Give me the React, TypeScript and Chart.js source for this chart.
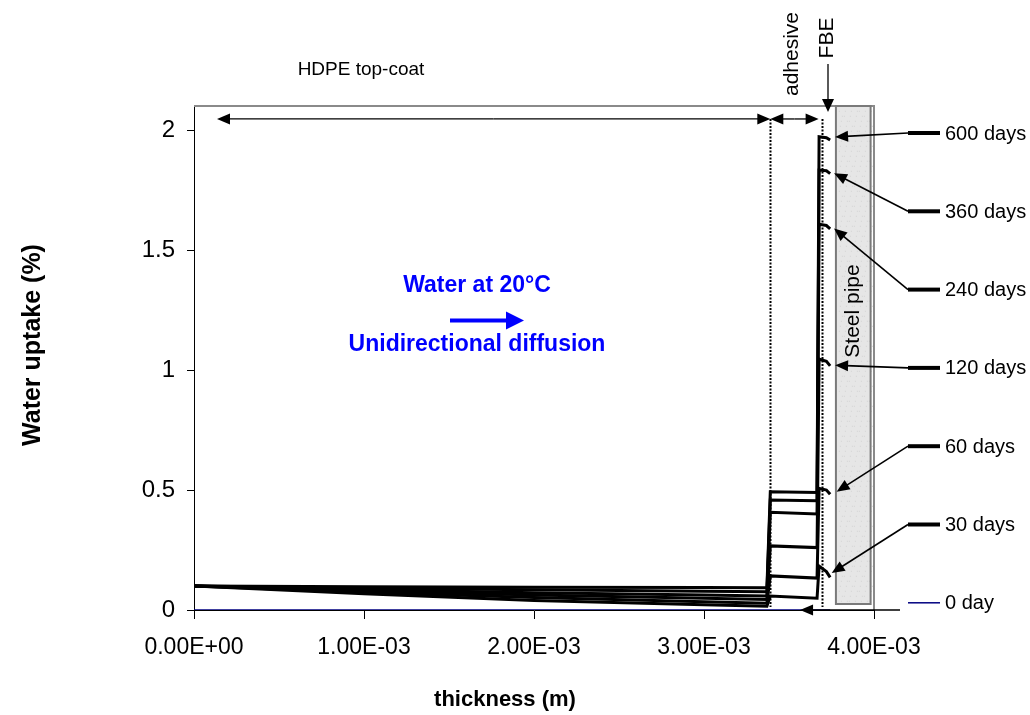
import React, { useEffect, useRef } from 'react';
import { Chart, registerables } from 'chart.js';

Chart.register(...registerables);

// ---------------- data ----------------
// thickness positions (m) through HDPE -> adhesive -> FBE
const thickness = [0, 1.0e-3, 2.0e-3, 3.0e-3, 3.37e-3, 3.39e-3, 3.665e-3, 3.677e-3, 3.72e-3, 3.742e-3];

const seriesLabels = ['600 days', '360 days', '240 days', '120 days', '60 days', '30 days'];
const uptake600 = [0.100, 0.097, 0.095, 0.094, 0.093, 0.493, 0.490, 1.972, 1.968, 1.958];
const uptake360 = [0.100, 0.091, 0.084, 0.078, 0.076, 0.458, 0.455, 1.833, 1.830, 1.818];
const uptake240 = [0.100, 0.085, 0.072, 0.062, 0.058, 0.407, 0.400, 1.607, 1.602, 1.588];
const uptake120 = [0.100, 0.080, 0.063, 0.049, 0.044, 0.267, 0.260, 1.046, 1.036, 1.017];
const uptake60 = [0.100, 0.074, 0.052, 0.034, 0.028, 0.142, 0.133, 0.507, 0.500, 0.482];
const uptake30 = [0.100, 0.068, 0.040, 0.022, 0.016, 0.058, 0.049, 0.183, 0.160, 0.136];
const zeroLabel = '0 day';
const uptake0 = [0, 0, 0, 0, 0, 0, 0, 0, 0, 0];

const xTickValues = [0, 1e-3, 2e-3, 3e-3, 4e-3];
const xTickLabels = ['0.00E+00', '1.00E-03', '2.00E-03', '3.00E-03', '4.00E-03'];
const yTickValues = [0, 0.5, 1, 1.5, 2];
const yTickLabels = ['0', '0.5', '1', '1.5', '2'];

// layer boundaries (m)
const adhesiveStart = 3.39e-3;
const fbeStart = 3.692e-3;
const pipeStart = 3.776e-3;
const pipeEnd = 3.98e-3;

// ---------------- styles / layout ----------------
const FONT = '"Liberation Sans", Arial, Helvetica, sans-serif';
const W = 1030;
const H = 715;
const legendX = 908;
const legendTop = 133;
const legendStep = 78.3;
// arrow tips (data coordinates) for each legend entry, top to bottom
const arrowTipX = [3.771e-3, 3.765e-3, 3.765e-3, 3.771e-3, 3.78e-3, 3.751e-3, 3.565e-3];
const arrowTipY = [1.971, 1.82, 1.59, 1.02, 0.493, 0.154, 0];

function arrowHead(ctx: CanvasRenderingContext2D, fx: number, fy: number, tx: number, ty: number, len: number, half: number) {
  const a = Math.atan2(ty - fy, tx - fx);
  const bx = tx - len * Math.cos(a);
  const by = ty - len * Math.sin(a);
  ctx.beginPath();
  ctx.moveTo(tx, ty);
  ctx.lineTo(bx + half * Math.sin(a), by - half * Math.cos(a));
  ctx.lineTo(bx - half * Math.sin(a), by + half * Math.cos(a));
  ctx.closePath();
  ctx.fill();
}

function arrowLine(ctx: CanvasRenderingContext2D, fx: number, fy: number, tx: number, ty: number, len: number, half: number, lw: number) {
  const a = Math.atan2(ty - fy, tx - fx);
  ctx.lineWidth = lw;
  ctx.beginPath();
  ctx.moveTo(fx, fy);
  ctx.lineTo(tx - (len * 0.8) * Math.cos(a), ty - (len * 0.8) * Math.sin(a));
  ctx.stroke();
  arrowHead(ctx, fx, fy, tx, ty, len, half);
}

function rotText(ctx: CanvasRenderingContext2D, text: string, x: number, y: number, font: string) {
  ctx.save();
  ctx.translate(x, y);
  ctx.rotate(-Math.PI / 2);
  ctx.font = font;
  ctx.textAlign = 'center';
  ctx.textBaseline = 'alphabetic';
  ctx.fillText(text, 0, 0);
  ctx.restore();
}

const annotations = {
  id: 'annotations',
  beforeDatasetsDraw(chart: any) {
    const { ctx, chartArea: ca, scales } = chart;
    const xs = scales.x;
    const ys = scales.y;
    ctx.save();
    // plot-area border (top, right)
    ctx.strokeStyle = '#8a8a8a';
    ctx.lineWidth = 2;
    ctx.beginPath();
    ctx.moveTo(ca.left, ca.top);
    ctx.lineTo(ca.right, ca.top);
    ctx.lineTo(ca.right, ca.bottom);
    ctx.stroke();
    // steel pipe
    const px0 = xs.getPixelForValue(pipeStart);
    const px1 = xs.getPixelForValue(pipeEnd);
    const py0 = ca.top;
    const py1 = ys.getPixelForValue(0.025);
    ctx.fillStyle = '#e6e6e6';
    ctx.fillRect(px0, py0, px1 - px0, py1 - py0);
    // light speckle texture
    ctx.fillStyle = '#d2d2d2';
    for (let yy = py0 + 2; yy < py1 - 2; yy += 5) {
      for (let xx = px0 + 2; xx < px1 - 2; xx += 5) {
        const o = ((yy * 7 + xx * 13) % 4);
        ctx.fillRect(xx + o, yy + ((xx * 3) % 3), 1, 1);
      }
    }
    ctx.strokeStyle = '#7a7a7a';
    ctx.lineWidth = 2;
    ctx.strokeRect(px0, py0, px1 - px0, py1 - py0);
    ctx.fillStyle = '#000';
    rotText(ctx, 'Steel pipe', (px0 + px1) / 2 + 6, 311, `21px ${FONT}`);

    // dotted layer boundaries
    ctx.strokeStyle = '#000';
    ctx.lineWidth = 2;
    ctx.setLineDash([2, 1.5]);
    const yTopDot = ys.getPixelForValue(2.046);
    const yBotDot = ys.getPixelForValue(0.012);
    [adhesiveStart, fbeStart].forEach((v) => {
      const x = Math.round(xs.getPixelForValue(v)) + 0.5;
      ctx.beginPath();
      ctx.moveTo(x, yTopDot);
      ctx.lineTo(x, yBotDot);
      ctx.stroke();
    });
    ctx.setLineDash([]);
    ctx.restore();
  },
  afterDatasetsDraw(chart: any) {
    const { ctx, chartArea: ca, scales } = chart;
    const xs = scales.x;
    const ys = scales.y;
    ctx.save();
    ctx.fillStyle = '#000';
    ctx.strokeStyle = '#000';
    // layer double arrows
    const ay = ys.getPixelForValue(2.046);
    const xa = xs.getPixelForValue(adhesiveStart);
    const xf = xs.getPixelForValue(fbeStart) - 3;
    const xl = ca.left + 23;
    arrowLine(ctx, (xl + xa) / 2, ay, xl, ay, 13, 5.5, 1.3);
    arrowLine(ctx, (xl + xa) / 2, ay, xa, ay, 13, 5.5, 1.3);
    arrowLine(ctx, (xa + xf) / 2, ay, xa, ay, 13, 5.5, 1.3);
    arrowLine(ctx, (xa + xf) / 2, ay, xf, ay, 13, 5.5, 1.3);
    // FBE arrow
    const fx = 828;
    arrowLine(ctx, fx, 64, fx, 112, 13, 6, 1.3);
    // layer labels
    ctx.font = `19px ${FONT}`;
    ctx.textAlign = 'center';
    ctx.textBaseline = 'alphabetic';
    ctx.fillText('HDPE top-coat', 361, 75);
    rotText(ctx, 'adhesive', 798, 54, `21px ${FONT}`);
    rotText(ctx, 'FBE', 833, 38, `21px ${FONT}`);

    // blue text and arrow
    ctx.fillStyle = '#0000ff';
    ctx.strokeStyle = '#0000ff';
    ctx.font = `bold 23px ${FONT}`;
    ctx.fillText('Water at 20°C', 477, 292);
    ctx.fillText('Unidirectional diffusion', 477, 351);
    arrowLine(ctx, 450, 320.5, 524, 320.5, 18, 9, 4);

    // legend with arrows to curves
    const entries = chart.data.datasets
      .map((d: any, i: number) => ({ d, i }))
      .filter((e: any) => e.d.legendRank !== undefined)
      .sort((a: any, b: any) => a.d.legendRank - b.d.legendRank);
    entries.forEach((e: any, k: number) => {
      const ly = legendTop + k * legendStep;
      ctx.strokeStyle = e.d.borderColor;
      ctx.lineWidth = e.d.legendRank === 6 ? 1.5 : 4;
      ctx.beginPath();
      ctx.moveTo(legendX, ly);
      ctx.lineTo(legendX + 32, ly);
      ctx.stroke();
      ctx.fillStyle = '#000';
      ctx.font = `20px ${FONT}`;
      ctx.textAlign = 'left';
      ctx.textBaseline = 'middle';
      ctx.fillText(e.d.label, legendX + 37, ly + 1);
      // pointer arrow
      const tx = xs.getPixelForValue(arrowTipX[k]);
      const ty = ys.getPixelForValue(arrowTipY[k]);
      ctx.strokeStyle = '#000';
      if (e.d.legendRank === 6) {
        arrowLine(ctx, legendX - 8, ty, tx, ty, 13, 5.5, 1.6);
      } else {
        arrowLine(ctx, legendX, ly, tx, ty, 13, 5.5, 1.6);
      }
    });
    ctx.restore();
  },
  afterDraw(chart: any) {
    const { ctx } = chart;
    ctx.save();
    ctx.fillStyle = '#000';
    ctx.font = `bold 22px ${FONT}`;
    ctx.textAlign = 'center';
    ctx.textBaseline = 'alphabetic';
    ctx.fillText('thickness (m)', 505, 706);
    rotText(ctx, 'Water uptake (%)', 40, 345, `bold 25px ${FONT}`);
    ctx.restore();
  },
};

function mkSeries(label: string, ys: number[], color: string, width: number, rank: number) {
  return {
    label,
    data: thickness.map((x, i) => ({ x, y: ys[i] })),
    borderColor: color,
    backgroundColor: color,
    borderWidth: width,
    pointRadius: 0,
    tension: 0,
    fill: false,
    legendRank: rank,
  };
}

export default function App() {
  const ref = useRef<HTMLCanvasElement | null>(null);
  useEffect(() => {
    if (!ref.current) return;
    const black = '#000000';
    const chart = new Chart(ref.current, {
      type: 'line',
      data: {
        datasets: [
          mkSeries(zeroLabel, uptake0, '#000080', 1.5, 6),
          mkSeries(seriesLabels[0], uptake600, black, 3, 0),
          mkSeries(seriesLabels[1], uptake360, black, 3, 1),
          mkSeries(seriesLabels[2], uptake240, black, 3, 2),
          mkSeries(seriesLabels[3], uptake120, black, 3, 3),
          mkSeries(seriesLabels[4], uptake60, black, 3, 4),
          mkSeries(seriesLabels[5], uptake30, black, 3, 5),
        ] as any,
      },
      options: {
        animation: false,
        responsive: false,
        maintainAspectRatio: false,
        layout: { padding: { left: 0, right: W - 874, top: 106, bottom: 0 } },
        plugins: { legend: { display: false }, tooltip: { enabled: false } },
        scales: {
          x: {
            type: 'linear',
            min: 0,
            max: 4e-3,
            afterFit: (s: any) => { s.height = H - 610; },
            afterBuildTicks: (s: any) => { s.ticks = xTickValues.map((v) => ({ value: v })); },
            ticks: {
              callback: (_v: any, i: number) => xTickLabels[i],
              font: { family: FONT, size: 23 },
              color: '#000',
              padding: 15,
              maxRotation: 0,
              autoSkip: false,
            },
            grid: { display: true, drawOnChartArea: false, drawTicks: true, tickLength: 9, color: '#000' },
            border: { display: true, color: '#000', width: 1 },
          },
          y: {
            type: 'linear',
            min: 0,
            max: 2.1,
            afterFit: (s: any) => { s.width = 194; },
            afterBuildTicks: (s: any) => { s.ticks = yTickValues.map((v) => ({ value: v })); },
            ticks: {
              callback: (_v: any, i: number) => yTickLabels[i],
              font: { family: FONT, size: 24 },
              color: '#000',
              padding: 12,
              autoSkip: false,
            },
            grid: { display: true, drawOnChartArea: false, drawTicks: true, tickLength: 7, color: '#000' },
            border: { display: true, color: '#000', width: 1 },
          },
        },
      } as any,
      plugins: [annotations],
    });
    return () => chart.destroy();
  }, []);
  return (
    <div style={{ position: 'fixed', left: 0, top: 0, width: W, height: H, background: '#fff' }}>
      <canvas ref={ref} width={W} height={H} style={{ display: 'block' }} />
    </div>
  );
}
